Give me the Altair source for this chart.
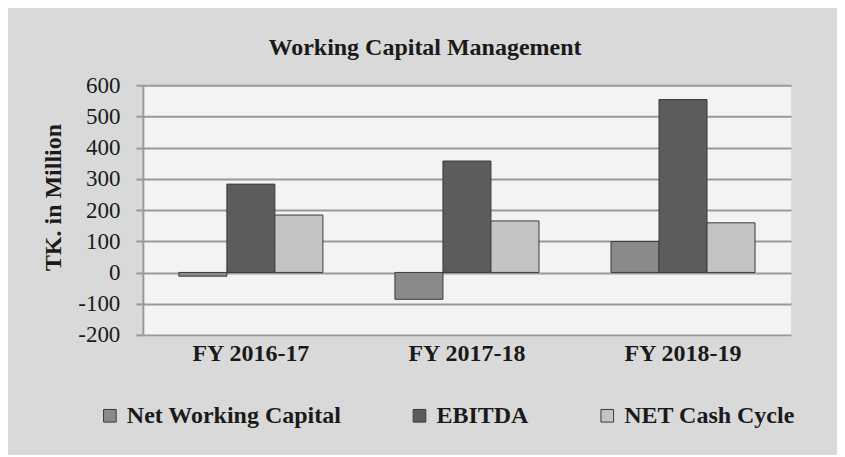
import altair as alt
import pandas as pd

years = ["FY 2016-17", "FY 2017-18", "FY 2018-19"]
series = ["Net Working Capital", "EBITDA", "NET Cash Cycle"]
net_working_capital = [-12, -86, 99]
ebitda = [283, 357, 554]
net_cash_cycle = [184, 165, 159]
colors = ["#8a8a8a", "#5c5c5c", "#c4c4c4"]

rows = []
for vals, s in zip([net_working_capital, ebitda, net_cash_cycle], series):
    for y, v in zip(years, vals):
        rows.append({"year": y, "series": s, "value": v})
df = pd.DataFrame(rows)

serif = "Liberation Serif"

chart = alt.Chart(df).mark_bar(stroke="#3a3a3a", strokeWidth=1).encode(
    x=alt.X("year:N", sort=years, title=None,
            scale=alt.Scale(paddingInner=1/3, paddingOuter=1/6),
            axis=alt.Axis(labelAngle=0, labelFont=serif, labelFontSize=24,
                          labelFontWeight="bold", labelColor="#1a1a1a",
                          ticks=False, domain=False, labelPadding=7)),
    xOffset=alt.XOffset("series:N", sort=series),
    y=alt.Y("value:Q", title="TK. in Million",
            scale=alt.Scale(domain=[-200, 600], nice=False),
            axis=alt.Axis(values=list(range(-200, 601, 100)),
                          labelExpr="'' + datum.value",
                          labelFont=serif, labelFontSize=23, labelColor="#1a1a1a",
                          labelPadding=16, tickSize=7, tickColor="#999999", tickWidth=2,
                          domainColor="#999999", domainWidth=2,
                          gridColor="#999999", gridWidth=2,
                          titleFont=serif, titleFontSize=24, titleFontWeight="bold",
                          titleColor="#1a1a1a", titleX=-89, titleY=112,
                          titleAlign="center", titleBaseline="middle")),
    color=alt.Color("series:N", sort=series,
                    scale=alt.Scale(domain=series, range=colors),
                    legend=alt.Legend(title=None, orient="none", direction="horizontal",
                                      legendX=-45, legendY=319,
                                      labelFont="serif", labelFontSize=24,
                                      labelFontWeight="bold", labelColor="#1a1a1a",
                                      symbolType="square", symbolSize=160,
                                      symbolStrokeColor="#3a3a3a", symbolStrokeWidth=1,
                                      columnPadding=66, labelOffset=5, labelLimit=400)),
).properties(
    width=649,
    height=250,
    title=alt.TitleParams("Working Capital Management", font=serif, fontSize=24,
                          fontWeight="bold", color="#1a1a1a", anchor="middle",
                          dx=-42, offset=14),
    background="#d9d9d9",
    padding={"left": 135, "top": 77, "right": 46, "bottom": 120},
    autosize=alt.AutoSizeParams(type="none"),
).configure(
    font=serif,
    style={"guide-label": {"font": serif}}
).configure_view(
    fill="#f3f3f3", stroke=None
)

chart.save("out.html", embed_options={"renderer": "svg", "actions": False})
